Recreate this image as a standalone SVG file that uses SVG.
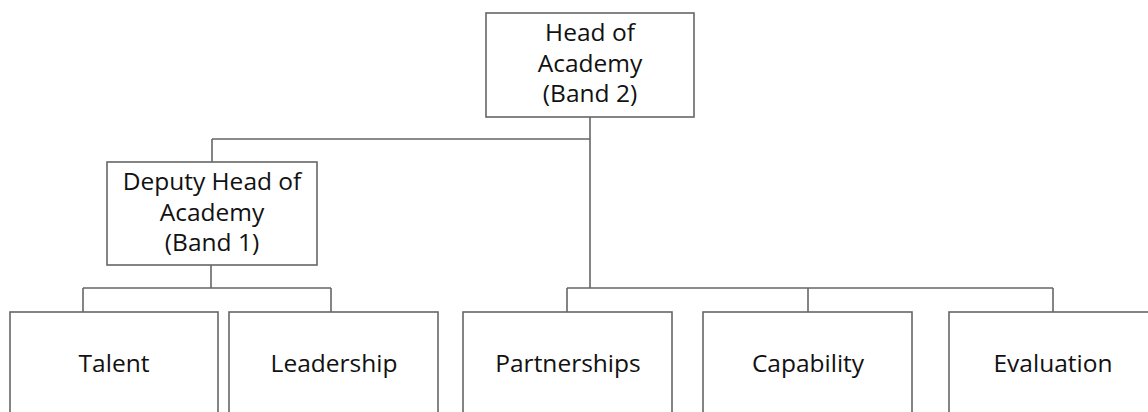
<svg xmlns="http://www.w3.org/2000/svg" width="1148" height="412" viewBox="0 0 1148 412">
<style>
.box{fill:#fff;stroke:#666;stroke-width:1.6}
.ln{fill:none;stroke:#666;stroke-width:1.6}
.t{font-family:"Open Sans","Liberation Sans",sans-serif;font-size:24.5px;fill:#111;text-anchor:middle}
</style>
<rect width="1148" height="412" fill="#fff"/>
<g id="connectors">
<path class="ln" d="M590,117 V288 M212,139 H590 M212,139 V162"/>
<path class="ln" d="M211,265 V288 M83,288 H331 M83,288 V312 M331,288 V312"/>
<path class="ln" d="M567,288 H1053 M567,288 V312 M808,288 V312 M1053,288 V312"/>
</g>
<g id="head">
<rect class="box" x="486" y="13" width="208" height="104"/>
<text class="t" x="590" y="41">Head of</text>
<text class="t" x="590" y="72">Academy</text>
<text class="t" x="590" y="102">(Band 2)</text>
</g>
<g id="deputy">
<rect class="box" x="107" y="162" width="210" height="103"/>
<text class="t" x="212" y="190">Deputy Head of</text>
<text class="t" x="212" y="221">Academy</text>
<text class="t" x="212" y="251">(Band 1)</text>
</g>
<g id="talent">
<rect class="box" x="10" y="312" width="208" height="120"/>
<text class="t" x="114" y="372">Talent</text>
</g>
<g id="leadership">
<rect class="box" x="229" y="312" width="209" height="120"/>
<text class="t" x="334" y="372">Leadership</text>
</g>
<g id="partnerships">
<rect class="box" x="463" y="312" width="209" height="120"/>
<text class="t" x="568" y="372">Partnerships</text>
</g>
<g id="capability">
<rect class="box" x="703" y="312" width="209" height="120"/>
<text class="t" x="808" y="372">Capability</text>
</g>
<g id="evaluation">
<rect class="box" x="949" y="312" width="209" height="120"/>
<text class="t" x="1053" y="372">Evaluation</text>
</g>
</svg>
